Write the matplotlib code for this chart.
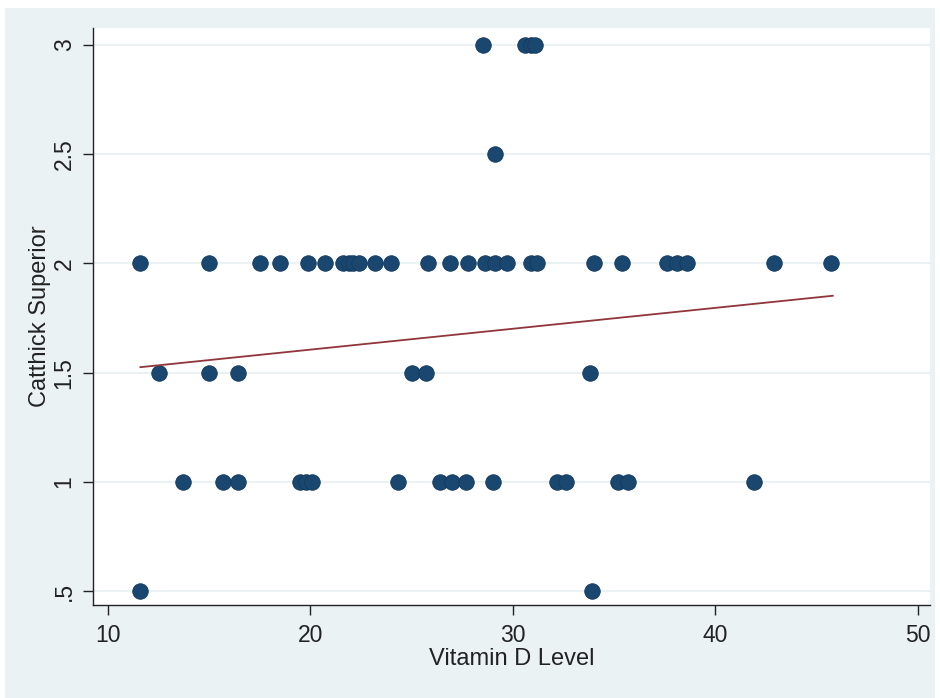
import matplotlib
matplotlib.use("Agg")
import matplotlib.pyplot as plt
from matplotlib.ticker import FixedLocator

plt.rcParams['font.family'] = ['Liberation Sans', 'DejaVu Sans']

# Data
vit_d_2 = [11.6, 15.0, 17.5, 18.5, 19.9, 20.7, 21.6, 21.9, 22.1, 22.4, 23.2, 24.0,
           25.8, 26.9, 27.8, 28.6, 29.1, 29.7, 30.9, 31.2, 34.0, 35.4, 37.6, 38.1,
           38.6, 42.9, 45.7]
vit_d_15 = [12.5, 15.0, 16.4, 25.0, 25.7, 33.8]
vit_d_1 = [13.7, 15.7, 16.4, 19.5, 19.8, 20.1, 24.3, 26.4, 27.0, 27.7, 29.0,
           32.2, 32.6, 35.2, 35.7, 41.9]
vit_d_05 = [11.6, 33.9]
vit_d_25 = [29.1]
vit_d_3 = [28.5, 30.6, 30.9, 31.1]

fit_x = [11.6, 45.8]
fit_y = [1.525, 1.852]

x_ticks = [10, 20, 30, 40, 50]
y_ticks = [0.5, 1, 1.5, 2, 2.5, 3]
y_tick_labels = ['.5', '1', '1.5', '2', '2.5', '3']

outer_bg = '#eaf2f3'
marker_c = '#1a476f'
line_c = '#90353b'

fig = plt.figure(figsize=(9.4, 6.98), dpi=100, facecolor='white')
# outer light background panel
bg = fig.add_axes([5/940, 0, 930/940, 1 - 8/698])
bg.set_facecolor(outer_bg)
bg.set_xticks([]); bg.set_yticks([])
for s in bg.spines.values():
    s.set_visible(False)
bg.set_zorder(0)

ax = fig.add_axes([93/940, 1 - 605/698, (930 - 93)/940, (605 - 28)/698])
ax.set_zorder(1)
ax.set_facecolor('white')

groups = [(vit_d_2, 2), (vit_d_15, 1.5), (vit_d_1, 1), (vit_d_05, 0.5),
          (vit_d_25, 2.5), (vit_d_3, 3)]
for xs, yv in groups:
    ax.scatter(xs, [yv] * len(xs), s=125, color=marker_c, edgecolors='#15395a',
               linewidths=0.6, zorder=3)

ax.plot(fit_x, fit_y, color=line_c, lw=1.3, zorder=4)

ax.set_xlim(9.26, 50.6)
ax.set_ylim(0.436, 3.078)
ax.xaxis.set_major_locator(FixedLocator(x_ticks))
ax.set_yticks(y_ticks)
ax.set_yticklabels(y_tick_labels, rotation=90, va='center')
ax.grid(axis='y', color=outer_bg, lw=1.5, zorder=0)
ax.set_axisbelow(True)

for side in ['top', 'right']:
    ax.spines[side].set_visible(False)
for side in ['left', 'bottom']:
    ax.spines[side].set_color('#222222')
    ax.spines[side].set_linewidth(1.0)

ax.tick_params(axis='both', direction='out', length=7.5, width=1.0, color='#222222',
               labelsize=16.5, labelcolor='#222222')
ax.tick_params(axis='x', pad=6)
ax.tick_params(axis='y', pad=5)

ax.set_xlabel('Vitamin D Level', fontsize=17, color='#222222', labelpad=1)
ax.set_ylabel('Catthick Superior', fontsize=17, color='#222222', labelpad=1)

fig.savefig('out.png', dpi=100, facecolor='white')
